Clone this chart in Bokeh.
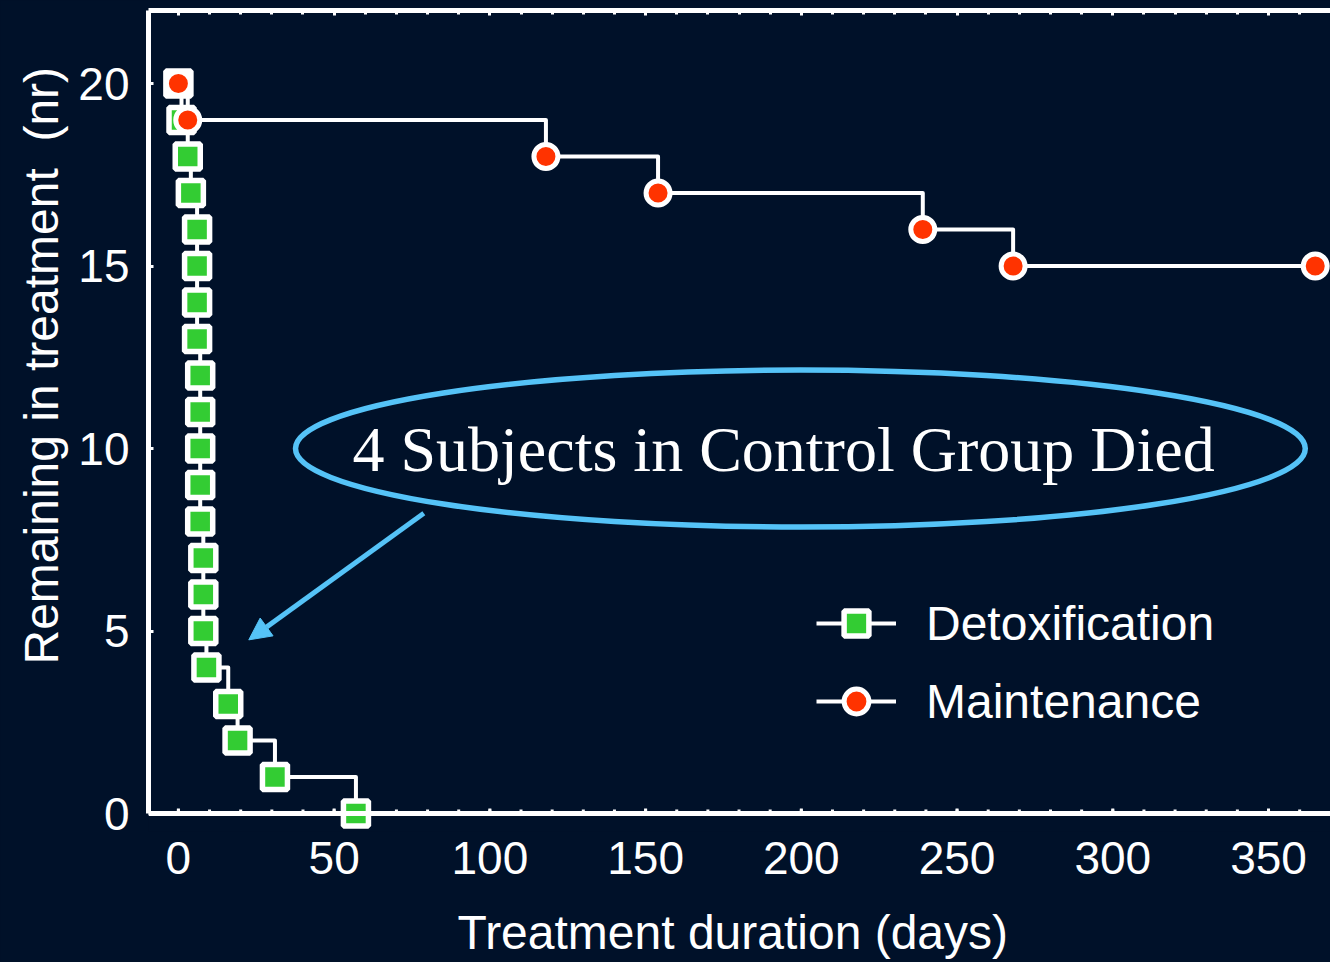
import math
from bokeh.plotting import figure
from bokeh.models import (LinearAxis, FixedTicker, Range1d, Legend, LegendItem,
                          Label, Arrow, NormalHead, Span, Title, GlobalInlineStyleSheet)
from bokeh.embed import file_html
from bokeh.resources import INLINE

# ---------------- data ----------------
detox_days = [0, 1, 3, 4, 6, 6, 6, 6, 7, 7, 7, 7, 7, 8, 8, 8, 9, 16, 19, 31, 57]
detox_remaining = [20, 19, 18, 17, 16, 15, 14, 13, 12, 11, 10, 9, 8, 7, 6, 5, 4, 3, 2, 1, 0]
maint_days = [0, 3, 118, 154, 239, 268, 365]
maint_remaining = [20, 19, 18, 17, 16, 15, 15]
x_ticks = [0, 50, 100, 150, 200, 250, 300, 350]
x_minor_ticks = list(range(0, 370, 10))
y_ticks = [0, 5, 10, 15, 20]
series_labels = ["Detoxification", "Maintenance"]
x_title = "Treatment duration (days)\u00a0"
y_title = "Remaining in treatment\u00a0 (nr)"
note_text = "4 Subjects in Control Group Died"

# ---------------- style ----------------
BG = "#001129"
GREEN = "#33CC33"
RED = "#FF3300"
BLUE = "#55C3F7"
SANS = "Liberation Sans"
SERIF = "Liberation Serif"

p = figure(width=1330, height=962,
           x_range=Range1d(-9.6, 369.9), y_range=Range1d(-0.49, 22.0),
           output_backend="svg", toolbar_location=None,
           x_axis_location=None, y_axis_location=None,
           min_border_left=148, min_border_right=0,
           min_border_top=10, min_border_bottom=131,
           background_fill_color=BG, border_fill_color=BG,
           outline_line_color=None)
p.grid.grid_line_color = None
p.stylesheets = [GlobalInlineStyleSheet(css="body{background:%s;}" % BG)]


def style_axis(ax):
    ax.axis_line_color = "white"
    ax.axis_line_width = 5
    ax.major_tick_line_color = "white"
    ax.major_tick_line_width = 3
    ax.major_tick_in = 5
    ax.major_tick_out = 0
    ax.minor_tick_line_color = "white"
    ax.minor_tick_line_width = 3
    ax.minor_tick_in = 4
    ax.minor_tick_out = 0
    ax.major_label_text_color = "white"
    ax.major_label_text_font = SANS
    ax.major_label_text_font_size = "46px"


# bottom axis: labels + title (its line is drawn at y = 0 below)
xaxis = LinearAxis(ticker=FixedTicker(ticks=x_ticks), axis_label=x_title)
style_axis(xaxis)
xaxis.axis_line_color = None
xaxis.major_tick_line_color = None
xaxis.minor_tick_line_color = None
xaxis.major_tick_in = 0
xaxis.minor_tick_in = 0
xaxis.major_label_standoff = 10
xaxis.axis_label_standoff = 29
xaxis.axis_label_text_font = SANS
xaxis.axis_label_text_font_size = "48px"
xaxis.axis_label_text_font_style = "normal"
xaxis.axis_label_text_color = "white"
p.add_layout(xaxis, "below")

yaxis = LinearAxis(ticker=FixedTicker(ticks=y_ticks), bounds=(0, 22))
style_axis(yaxis)
yaxis.major_label_standoff = 19
p.add_layout(yaxis, "left")
p.add_layout(Title(text=y_title, align="left", offset=167, text_font=SANS,
                   text_font_size="48px", text_font_style="normal",
                   text_color="white", standoff=16), "left")

topaxis = LinearAxis(ticker=FixedTicker(ticks=x_ticks, minor_ticks=x_minor_ticks))
style_axis(topaxis)
topaxis.major_label_text_font_size = "1px"
topaxis.major_label_text_color = None
topaxis.major_label_standoff = 0
p.add_layout(topaxis, "above")

# x axis line at y = 0 with small inward ticks
p.add_layout(Span(location=0, dimension="width", line_color="white", line_width=5))
p.segment(x0=x_minor_ticks, y0=[0] * len(x_minor_ticks),
          x1=x_minor_ticks, y1=[0.11] * len(x_minor_ticks),
          line_color="white", line_width=3)
p.segment(x0=x_ticks, y0=[0] * len(x_ticks), x1=x_ticks, y1=[0.14] * len(x_ticks),
          line_color="white", line_width=3)

# ---------------- data renderers ----------------
r_dl = p.step(detox_days, detox_remaining, mode="after", line_color="white",
              line_width=4, line_join="round")
r_ml = p.step(maint_days, maint_remaining, mode="after", line_color="white",
              line_width=4, line_join="round")
r_dm = p.scatter(detox_days, detox_remaining, marker="square", size=25,
                 fill_color=GREEN, line_color="white", line_width=5.5)
r_mm = p.scatter(maint_days, maint_remaining, marker="circle", size=24,
                 fill_color=RED, line_color="white", line_width=5)

legend = Legend(items=[LegendItem(label=series_labels[0], renderers=[r_dl, r_dm]),
                       LegendItem(label=series_labels[1], renderers=[r_ml, r_mm])],
                location=(668, 99), glyph_width=80, glyph_height=62, spacing=16,
                label_standoff=30, padding=0, margin=0,
                border_line_color=None, background_fill_alpha=0,
                label_text_font=SANS, label_text_font_size="48px",
                label_text_color="white", label_text_baseline="middle")
p.add_layout(legend)

# ---------------- annotations ----------------
p.ellipse(x=[199.7], y=[10.0], width=[324.2], height=[4.3],
          fill_color=None, line_color=BLUE, line_width=5.5)
p.add_layout(Label(x=194.3, y=9.98, text=note_text, text_font=SERIF,
                   text_font_size="64px", text_color="white",
                   text_align="center", text_baseline="alphabetic"))
p.add_layout(Arrow(end=NormalHead(size=22, fill_color=BLUE, line_color=BLUE, line_width=1),
                   x_start=78.8, y_start=8.23, x_end=22.6, y_end=4.76,
                   line_color=BLUE, line_width=5))

open("out.html", "w").write(file_html(p, INLINE))
